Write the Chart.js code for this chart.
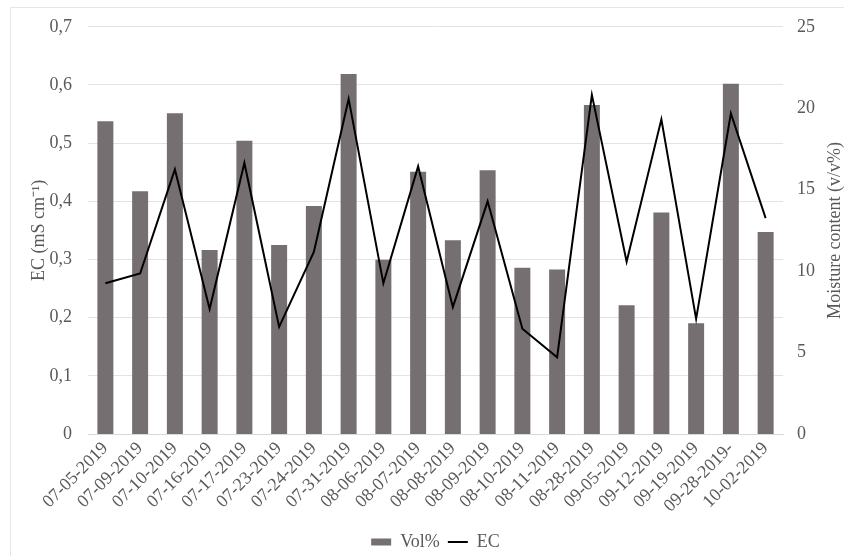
<!DOCTYPE html>
<html>
<head>
<meta charset="utf-8">
<script src="https://cdn.jsdelivr.net/npm/chart.js@4/dist/chart.umd.min.js"></script>
<style>
  html, body { margin: 0; padding: 0; background: #fff; }
  #wrap { position: relative; width: 844px; height: 556px; overflow: hidden; }
  #frame { position: absolute; left: 10px; top: 7px; width: 900px; height: 600px;
           border-left: 1px solid #e6e6e6; border-top: 1px solid #e6e6e6; }
  canvas { position: absolute; left: 0; top: 0; }
</style>
</head>
<body>
<div id="wrap">
  <div id="frame"></div>
  <canvas id="chart" width="844" height="556"></canvas>
</div>
<script>
// Sampling dates
const dates = [
  "07-05-2019", "07-09-2019", "07-10-2019", "07-16-2019", "07-17-2019",
  "07-23-2019", "07-24-2019", "07-31-2019", "08-06-2019", "08-07-2019",
  "08-08-2019", "08-09-2019", "08-10-2019", "08-11-2019", "08-28-2019",
  "09-05-2019", "09-12-2019", "09-19-2019", "09-28-2019-", "10-02-2019"
];

// Moisture content, v/v% (bars, right axis)
const volPercent = [
  19.2, 14.9, 19.7, 11.3, 18.0, 11.6, 14.0, 22.1, 10.7, 16.1,
  11.9, 16.2, 10.2, 10.1, 20.2, 7.9, 13.6, 6.8, 21.5, 12.4
];

// Electrical conductivity, mS cm-1 (line, left axis)
const ecValues = [
  0.259, 0.276, 0.455, 0.215, 0.466, 0.184, 0.313, 0.576, 0.259, 0.460,
  0.218, 0.400, 0.181, 0.132, 0.583, 0.296, 0.541, 0.198, 0.551, 0.371
];

// Axis tick labels
const ecTickLabels = ["0", "0,1", "0,2", "0,3", "0,4", "0,5", "0,6", "0,7"];
const moistureTickLabels = ["0", "5", "10", "15", "20", "25"];
const moistureTitle = "Moisture content (v/v%)";

const FONT = "'Liberation Serif', 'Times New Roman', serif";
const TEXT = "#595959";

// Right-axis title, written bottom-to-top beside the y1 scale
const rightAxisTitle = {
  id: "rightAxisTitle",
  afterDraw(chart) {
    const s = chart.scales.y1;
    const area = chart.chartArea;
    const ctx = chart.ctx;
    ctx.save();
    ctx.translate(s.right - 9, (area.top + area.bottom) / 2);
    ctx.rotate(-Math.PI / 2);
    ctx.textAlign = "center";
    ctx.textBaseline = "middle";
    ctx.fillStyle = TEXT;
    ctx.font = "18px " + FONT;
    ctx.fillText(moistureTitle, 0, 0);
    ctx.restore();
  }
};

new Chart(document.getElementById("chart"), {
  data: {
    labels: dates,
    datasets: [
      {
        type: "line",
        label: "EC",
        data: ecValues,
        yAxisID: "y",
        borderColor: "#000000",
        backgroundColor: "#000000",
        borderWidth: 2,
        pointRadius: 0,
        pointStyle: "line",
        tension: 0,
        order: 0
      },
      {
        type: "bar",
        label: "Vol%",
        data: volPercent,
        yAxisID: "y1",
        backgroundColor: "#756f71",
        borderWidth: 0,
        barPercentage: 0.46,
        categoryPercentage: 1.0,
        pointStyle: "rect",
        order: 1
      }
    ]
  },
  options: {
    responsive: false,
    animation: false,
    layout: { padding: { left: 0, right: 0, top: 23, bottom: -5 } },
    plugins: {
      tooltip: { enabled: false },
      legend: {
        position: "bottom",
        fullSize: false,
        reverse: true,
        labels: {
          usePointStyle: true,
          pointStyleWidth: 20,
          boxHeight: 7,
          padding: 8,
          color: TEXT,
          font: { family: FONT, size: 18 }
        }
      }
    },
    scales: {
      x: {
        grid: { display: false, drawTicks: false },
        border: { display: true, color: "#d9d9d9" },
        ticks: {
          autoSkip: false,
          maxRotation: 45,
          minRotation: 45,
          padding: 4,
          color: TEXT,
          font: { family: FONT, size: 18 }
        },
        afterFit(scale) { scale.height = 91; }
      },
      y: {
        position: "left",
        min: 0,
        max: 0.7,
        afterBuildTicks(scale) {
          scale.ticks = ecTickLabels.map((t, i) => ({ value: i / 10 }));
        },
        grid: { color: "#e3e3e3", drawTicks: false },
        border: { display: false },
        ticks: {
          padding: 16,
          color: TEXT,
          font: { family: FONT, size: 18 },
          callback: (v, i) => ecTickLabels[i]
        },
        title: {
          display: true,
          text: "EC (mS cm\u207B\u00B9)",
          color: TEXT,
          font: { family: FONT, size: 18 },
          padding: { top: 28, bottom: 0 }
        },
        afterFit(scale) { scale.width = 88; }
      },
      y1: {
        position: "right",
        min: 0,
        max: 25,
        afterBuildTicks(scale) {
          scale.ticks = moistureTickLabels.map(t => ({ value: Number(t) }));
        },
        grid: { display: false, drawTicks: false },
        border: { display: false },
        ticks: {
          padding: 14,
          color: TEXT,
          font: { family: FONT, size: 18 },
          callback: (v, i) => moistureTickLabels[i]
        },
        afterFit(scale) { scale.width = 61; }
      }
    }
  },
  plugins: [rightAxisTitle]
});
</script>
</body>
</html>
